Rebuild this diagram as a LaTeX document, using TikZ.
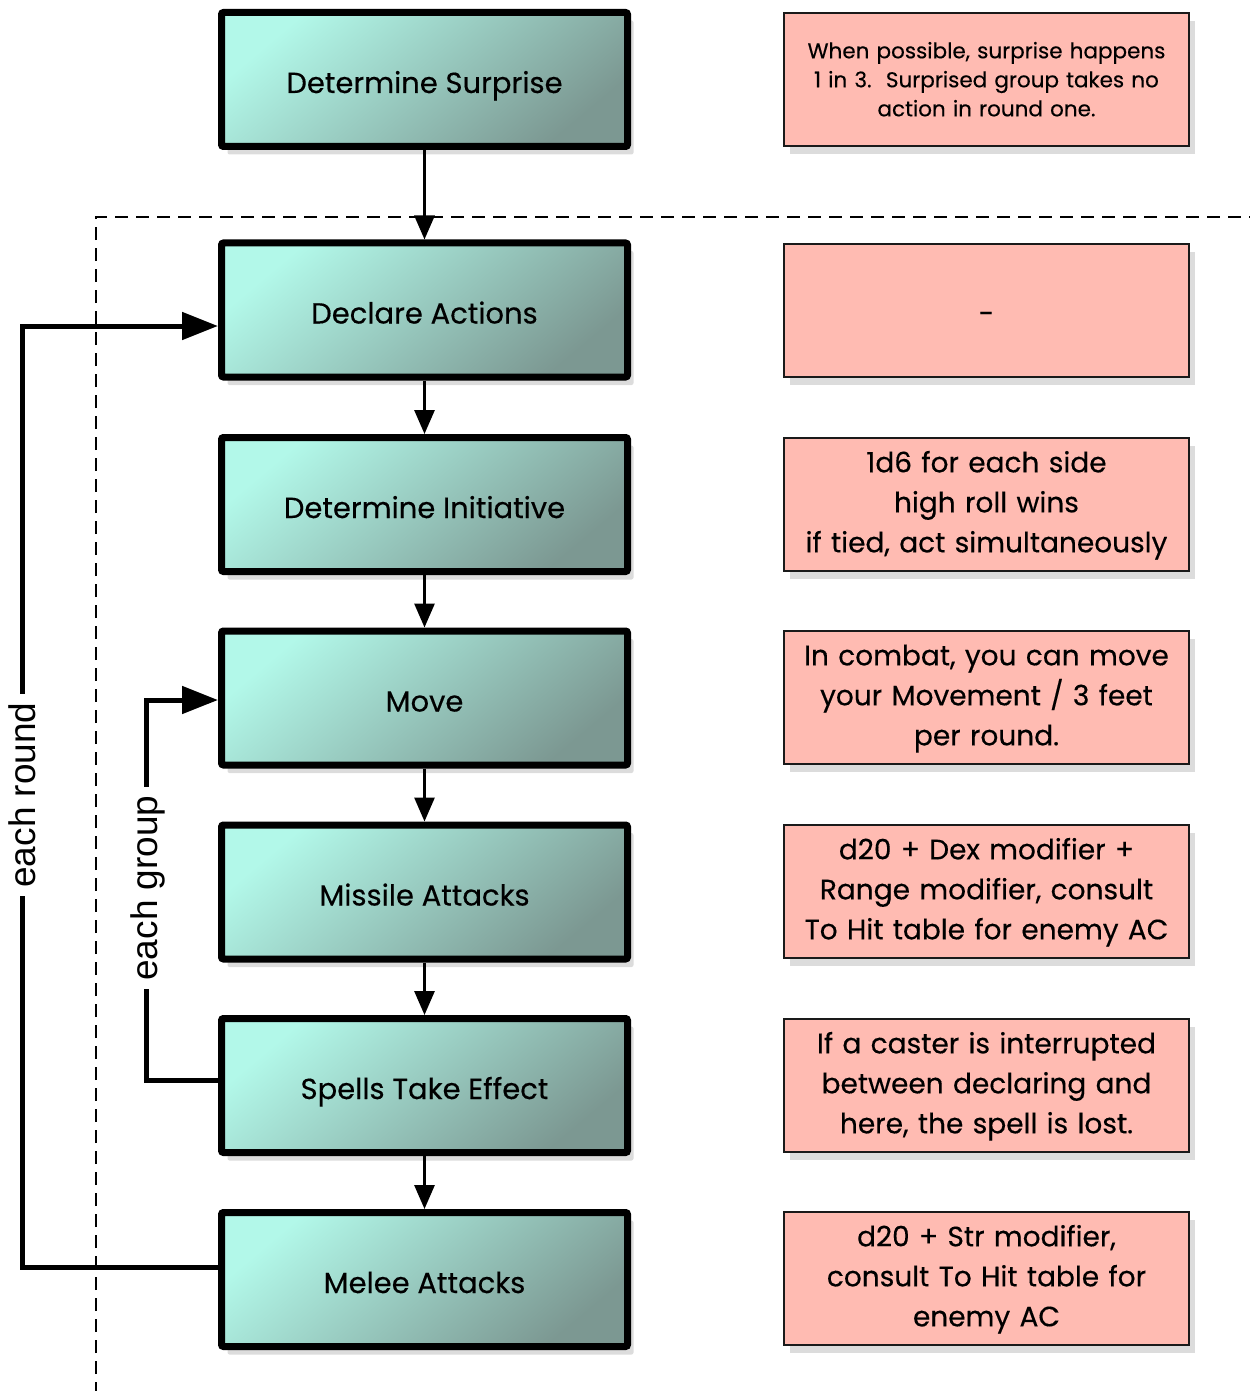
\documentclass[tikz,border=0pt]{standalone}
\usepackage{fontspec}
\setmainfont{Poppins}[FakeBold=0.35]
\newfontfamily\labelfont{Liberation Sans}
\usetikzlibrary{shadows,arrows.meta,calc}
\definecolor{teallight}{HTML}{B2F8E9}
\definecolor{tealdark}{HTML}{7C9892}
\definecolor{notefill}{HTML}{FFBBB2}
\definecolor{noteline}{HTML}{1A1A1A}
\tikzset{
  stepbox/.style={draw=black, line width=3.5pt, rounded corners=1pt,
    minimum width=203pt, minimum height=67pt, inner sep=0pt,
    text height=16pt, text depth=2.5pt,
    top color=teallight, bottom color=tealdark, shading angle=40,
    drop shadow={opacity=0.28, shadow xshift=3pt, shadow yshift=-4pt},
    font=\fontsize{14.5pt}{17pt}\selectfont},
  notebox/.style={draw=noteline, line width=1pt, fill=notefill,
    minimum width=202.5pt, minimum height=66.5pt, inner sep=0pt,
    align=center, text width=201pt,
    execute at begin node={\rule{0pt}{12.8pt}},
    execute at end node={\rule[-5pt]{0pt}{5pt}},
    drop shadow={opacity=0.28, shadow xshift=3pt, shadow yshift=-4pt},
    font=\fontsize{14pt}{20pt}\selectfont},
  smallnote/.style={font=\fontsize{10.75pt}{14.5pt}\selectfont,
    execute at begin node={\rule{0pt}{10pt}},
    execute at end node={\rule[-4pt]{0pt}{4pt}}},
  flowarrow/.style={line width=1.5pt, -{Triangle[length=12pt,width=10pt]}},
  looparrow/.style={line width=2.5pt, -{Triangle[length=18pt,width=13.5pt]}},
  looplabel/.style={rotate=90, fill=white, inner sep=4pt, font=\labelfont\fontsize{18.5pt}{20pt}\selectfont},
  boundary/.style={line width=1.25pt, dash pattern=on 6.5pt off 4pt}
}
\begin{document}
\begin{tikzpicture}[x=0.5pt,y=-0.5pt]
\useasboundingbox (0,0) rectangle (1249,1391);
% dashed boundary of the round
\draw[boundary] (96,1395) -- (96,217) -- (1255,217);

% left column
\node[stepbox] (surprise) at (424.5,79.5) {Determine Surprise};
\node[stepbox] (declare) at (424.5,310) {Declare Actions};
\node[stepbox] (init) at (424.5,504.5) {Determine Initiative};
\node[stepbox] (move) at (424.5,698) {Move};
\node[stepbox] (missile) at (424.5,892) {Missile Attacks};
\node[stepbox] (spells) at (424.5,1085.5) {Spells Take Effect};
\node[stepbox] (melee) at (424.5,1279.5) {Melee Attacks};

% right column
\node[notebox, smallnote] (n1) at (986.5,79.5) {When possible, surprise happens\\1 in 3.\ \ Surprised group takes no\\action in round one.};
\node[notebox] (n2) at (986.5,310.5) {\raisebox{-2.5pt}{-}};
\node[notebox] (n3) at (986.5,504.5) {1d6 for each side\\high roll wins\\if tied, act simultaneously};
\node[notebox] (n4) at (986.5,697.5) {In combat, you can move\\your Movement / 3 feet\\per round.};
\node[notebox] (n5) at (986.5,891.5) {d20 + Dex modifier +\\Range modifier, consult\\To Hit table for enemy AC};
\node[notebox] (n6) at (986.5,1085.5) {If a caster is interrupted\\between declaring and\\here, the spell is lost.};
\node[notebox] (n7) at (986.5,1278.5) {d20 + Str modifier,\\consult To Hit table for\\enemy AC};

% flow arrows
\draw[flowarrow] (surprise.south) -- (declare.north);
\draw[flowarrow] (declare.south) -- (init.north);
\draw[flowarrow] (init.south) -- (move.north);
\draw[flowarrow] (move.south) -- (missile.north);
\draw[flowarrow] (missile.south) -- (spells.north);
\draw[flowarrow] (spells.south) -- (melee.north);

% each round loop
\coordinate (rx) at (22,0);
\coordinate (gx) at (146,0);
\coordinate (meleeout) at ([yshift=6.25pt]melee.west);
\coordinate (declarein) at ([yshift=-8pt]declare.west);
\coordinate (spellsout) at ([yshift=2.75pt]spells.west);
\coordinate (movein) at ([yshift=-1pt]move.west);
\draw[looparrow] (meleeout) -- (rx |- meleeout) -- (rx |- declarein) -- (declarein);
\node[looplabel] (roundlbl) at (22,795) {each round};

% each group loop
\draw[looparrow] (spellsout) -- (gx |- spellsout) -- (gx |- movein) -- (movein);
\node[looplabel] (grouplbl) at (148,888) {each group};
\end{tikzpicture}
\end{document}
